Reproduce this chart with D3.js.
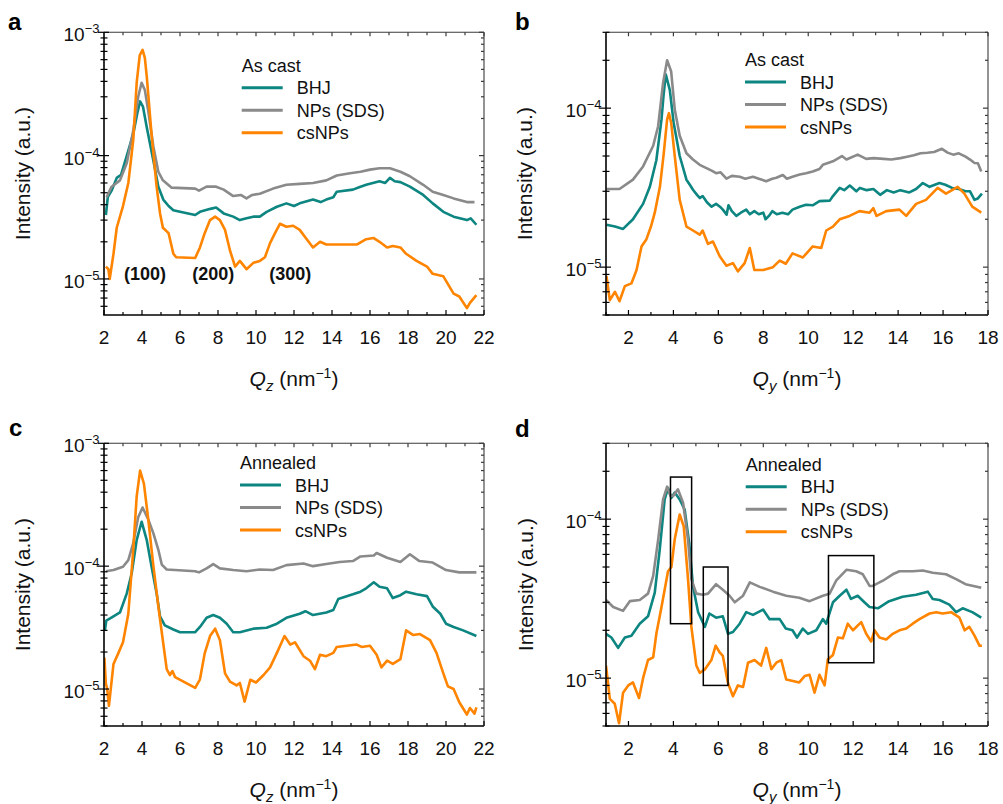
<!DOCTYPE html>
<html><head><meta charset="utf-8">
<script src="https://cdn.jsdelivr.net/npm/d3@7"></script>
<style>html,body{margin:0;padding:0;background:#fff;}svg{display:block;}</style>
</head><body>
<script>
// ---------------- DATA ----------------
const seriesNames = ["BHJ", "NPs (SDS)", "csNPs"];
const seriesColors = ["#0d8580", "#8a8a8a", "#ff8400"];
const panelLetters = ["a", "b", "c", "d"];
const legendTitles = ["As cast", "As cast", "Annealed", "Annealed"];
const axisVars = ["z", "y", "z", "y"];
const qzTicks = [2, 4, 6, 8, 10, 12, 14, 16, 18, 20, 22];
const qyTicks = [2, 4, 6, 8, 10, 12, 14, 16, 18];
const peakLabels = [["(100)", 4.16, 9.8e-6], ["(200)", 7.75, 9.8e-6], ["(300)", 11.8, 9.8e-6]];
const boxesD = [[3.87, 4.81, 2.2e-5, 1.84e-4], [5.33, 6.43, 9.0e-6, 5.0e-5], [10.9, 12.92, 1.25e-5, 5.9e-5]];

// panel a: as cast, Qz
const a_BHJ = [[2.1,3.3e-5],[2.2,4.6e-5],[2.4,5.2e-5],[2.67,6.6e-5],[2.9,7.0e-5],[3.2,1.0e-4],[3.54,1.5e-4],[3.75,2.2e-4],[3.9,2.75e-4],[4.05,2.5e-4],[4.25,1.7e-4],[4.6,9.1e-5],[4.86,5.6e-5],[5.12,4.4e-5],[5.4,3.9e-5],[5.65,3.6e-5],[6.0,3.5e-5],[6.8,3.3e-5],[7.05,3.5e-5],[7.6,3.7e-5],[7.9,3.8e-5],[8.3,3.4e-5],[8.8,3.2e-5],[9.15,3.0e-5],[9.5,3.1e-5],[9.86,3.2e-5],[10.2,3.2e-5],[10.56,3.5e-5],[11.1,3.85e-5],[11.6,4.1e-5],[12.0,3.9e-5],[12.3,4.1e-5],[13.0,4.4e-5],[13.4,4.2e-5],[13.7,4.4e-5],[14.07,4.6e-5],[14.25,5.1e-5],[15.1,5.3e-5],[15.5,5.6e-5],[15.8,5.8e-5],[16.5,6.2e-5],[16.8,6.0e-5],[17.05,6.6e-5],[17.3,6.2e-5],[17.6,6.1e-5],[18.1,5.6e-5],[18.8,4.8e-5],[19.3,4.1e-5],[19.86,3.5e-5],[20.4,3.2e-5],[21.1,3.0e-5],[21.3,3.1e-5],[21.6,2.75e-5]];
const a_NPs = [[2.14,4.6e-5],[2.4,5.6e-5],[2.84,6.3e-5],[3.2,8.7e-5],[3.54,1.6e-4],[3.8,3.0e-4],[3.98,3.9e-4],[4.15,3.4e-4],[4.33,2.3e-4],[4.6,1.18e-4],[4.86,7.4e-5],[5.1,6.3e-5],[5.56,5.5e-5],[6.8,5.4e-5],[7.0,5.2e-5],[7.4,5.6e-5],[7.9,5.6e-5],[8.3,5.3e-5],[8.8,4.7e-5],[9.2,4.8e-5],[9.5,4.5e-5],[9.8,4.8e-5],[10.2,4.9e-5],[10.9,5.4e-5],[11.6,5.8e-5],[12.3,5.9e-5],[13.0,6.0e-5],[13.7,6.3e-5],[14.25,6.9e-5],[14.95,7.2e-5],[15.5,7.4e-5],[16.0,7.7e-5],[16.5,7.9e-5],[17.05,7.9e-5],[17.6,7.4e-5],[18.1,6.8e-5],[18.8,5.8e-5],[19.3,5.1e-5],[19.86,4.8e-5],[20.4,4.5e-5],[21.1,4.2e-5],[21.5,4.2e-5]];
const a_cs = [[2.1,1.26e-5],[2.23,1.2e-5],[2.3,1.0e-5],[2.5,1.6e-5],[2.67,2.6e-5],[3.0,3.9e-5],[3.28,6.0e-5],[3.54,1.34e-4],[3.72,3.9e-4],[3.88,6.5e-4],[4.03,7.2e-4],[4.15,6.2e-4],[4.25,4.4e-4],[4.5,1.5e-4],[4.77,5.6e-5],[4.95,3.4e-5],[5.1,2.6e-5],[5.4,2.35e-5],[5.65,1.6e-5],[5.8,1.5e-5],[6.8,1.48e-5],[7.05,1.8e-5],[7.3,2.35e-5],[7.58,3.0e-5],[7.85,3.2e-5],[8.1,3.0e-5],[8.37,2.5e-5],[8.63,1.7e-5],[8.9,1.26e-5],[9.15,1.4e-5],[9.5,1.2e-5],[9.86,1.35e-5],[10.2,1.4e-5],[10.47,1.5e-5],[10.74,1.95e-5],[11.0,2.35e-5],[11.26,2.8e-5],[11.6,2.65e-5],[11.96,2.7e-5],[12.3,2.5e-5],[12.67,2.1e-5],[13.0,1.8e-5],[13.37,2.0e-5],[13.7,1.9e-5],[14.07,1.9e-5],[15.3,1.9e-5],[15.8,2.1e-5],[16.18,2.15e-5],[16.5,2.0e-5],[16.9,1.8e-5],[17.2,1.85e-5],[17.6,1.8e-5],[17.9,1.6e-5],[18.45,1.4e-5],[19.0,1.26e-5],[19.3,1.1e-5],[19.86,1.05e-5],[20.4,7.6e-6],[20.7,7.2e-6],[21.1,5.8e-6],[21.26,6.4e-6],[21.6,7.4e-6]];

// panel b: as cast, Qy
const b_BHJ = [[1.02,1.85e-5],[1.4,1.8e-5],[1.76,1.74e-5],[2.2,2.0e-5],[2.65,2.5e-5],[2.95,3.2e-5],[3.24,4.7e-5],[3.47,8.5e-5],[3.56,1.2e-4],[3.66,1.63e-4],[3.84,1.3e-4],[4.01,8.1e-5],[4.28,5.0e-5],[4.58,3.55e-5],[4.73,3.3e-5],[4.87,3.07e-5],[5.05,2.85e-5],[5.18,2.72e-5],[5.3,2.8e-5],[5.5,2.55e-5],[5.7,2.4e-5],[5.9,2.5e-5],[6.07,2.4e-5],[6.2,2.3e-5],[6.37,2.14e-5],[6.45,2.45e-5],[6.6,2.25e-5],[6.8,2.1e-5],[7.0,2.2e-5],[7.24,2.3e-5],[7.4,2.15e-5],[7.6,2.25e-5],[7.8,2.15e-5],[8.0,2.2e-5],[8.1,2.0e-5],[8.25,2.1e-5],[8.4,2.25e-5],[8.6,2.15e-5],[8.85,2.2e-5],[9.1,2.15e-5],[9.3,2.3e-5],[9.62,2.4e-5],[9.9,2.47e-5],[10.2,2.45e-5],[10.5,2.6e-5],[10.96,2.62e-5],[11.1,2.8e-5],[11.4,3.15e-5],[11.6,3.05e-5],[11.85,3.26e-5],[12.14,3.0e-5],[12.3,3.15e-5],[12.6,3.05e-5],[12.9,3.1e-5],[13.2,2.85e-5],[13.5,3.05e-5],[13.8,2.95e-5],[14.1,3.05e-5],[14.5,2.95e-5],[14.8,3.1e-5],[15.1,3.38e-5],[15.4,3.2e-5],[15.84,3.38e-5],[16.1,3.3e-5],[16.4,3.15e-5],[16.7,3.1e-5],[17.0,3.0e-5],[17.2,3.0e-5],[17.4,2.65e-5],[17.54,2.7e-5],[17.73,2.9e-5]];
const b_NPs = [[1.02,3.1e-5],[1.6,3.1e-5],[2.2,3.55e-5],[2.65,4.3e-5],[3.1,5.8e-5],[3.32,7.7e-5],[3.54,1.44e-4],[3.72,2.0e-4],[3.9,1.7e-4],[4.06,9.8e-5],[4.28,6.7e-5],[4.58,5.2e-5],[4.87,4.75e-5],[5.17,4.4e-5],[5.47,4.2e-5],[5.7,4.05e-5],[5.9,3.9e-5],[6.1,3.95e-5],[6.36,3.6e-5],[6.6,3.75e-5],[6.95,3.7e-5],[7.2,3.6e-5],[7.54,3.7e-5],[7.8,3.6e-5],[8.13,3.47e-5],[8.4,3.6e-5],[8.58,3.65e-5],[8.87,3.8e-5],[9.05,3.6e-5],[9.3,3.7e-5],[9.62,3.82e-5],[9.9,3.9e-5],[10.2,4.0e-5],[10.5,4.14e-5],[10.65,4.4e-5],[11.1,4.63e-5],[11.5,5.0e-5],[11.7,4.75e-5],[12.2,5.1e-5],[12.58,4.8e-5],[12.9,4.85e-5],[13.35,4.8e-5],[13.7,4.75e-5],[14.1,4.85e-5],[14.4,4.95e-5],[14.7,5.05e-5],[15.0,5.2e-5],[15.3,5.24e-5],[15.6,5.3e-5],[15.95,5.55e-5],[16.2,5.25e-5],[16.45,5.1e-5],[16.7,5.2e-5],[17.0,4.95e-5],[17.2,4.75e-5],[17.4,4.52e-5],[17.55,4.5e-5],[17.7,4.0e-5]];
const b_cs = [[1.02,8.8e-6],[1.17,6.2e-6],[1.4,7.0e-6],[1.6,6.1e-6],[1.84,7.6e-6],[2.13,7.9e-6],[2.36,9.6e-6],[2.58,1.35e-5],[2.8,1.5e-5],[3.0,1.8e-5],[3.17,2.2e-5],[3.4,3.2e-5],[3.57,5.2e-5],[3.72,8.5e-5],[3.8,9.3e-5],[3.9,8.1e-5],[4.06,5.0e-5],[4.28,2.65e-5],[4.58,1.8e-5],[4.87,1.7e-5],[5.17,1.6e-5],[5.3,1.7e-5],[5.54,1.4e-5],[5.76,1.45e-5],[6.06,1.17e-5],[6.36,1.02e-5],[6.65,1.06e-5],[6.87,9.4e-6],[7.17,1.06e-5],[7.4,1.32e-5],[7.6,9.6e-6],[8.0,9.6e-6],[8.43,1.0e-5],[8.73,1.1e-5],[9.0,1.05e-5],[9.3,1.22e-5],[9.76,1.15e-5],[10.2,1.35e-5],[10.58,1.32e-5],[10.8,1.7e-5],[11.1,1.8e-5],[11.4,2.0e-5],[11.84,2.1e-5],[12.28,2.25e-5],[12.73,2.2e-5],[12.9,2.35e-5],[13.04,2.1e-5],[13.47,2.25e-5],[14.06,2.3e-5],[14.36,2.1e-5],[14.8,2.5e-5],[15.24,2.65e-5],[15.76,3.15e-5],[16.13,2.9e-5],[16.65,3.2e-5],[16.95,2.9e-5],[17.3,2.4e-5],[17.7,2.2e-5]];

// panel c: annealed, Qz
const c_BHJ = [[2.05,3.0e-5],[2.12,3.6e-5],[2.5,3.9e-5],[2.84,4.2e-5],[3.2,6.0e-5],[3.46,8.8e-5],[3.72,1.63e-4],[3.98,2.3e-4],[4.25,1.63e-4],[4.5,1.0e-4],[4.77,6.0e-5],[4.95,3.9e-5],[5.2,3.3e-5],[5.65,3.05e-5],[6.0,2.9e-5],[6.8,2.9e-5],[7.05,3.2e-5],[7.4,3.8e-5],[7.75,4.0e-5],[8.1,3.8e-5],[8.46,3.4e-5],[8.8,2.9e-5],[9.15,2.9e-5],[9.86,3.1e-5],[10.56,3.15e-5],[11.1,3.4e-5],[11.6,3.8e-5],[12.3,4.1e-5],[12.6,4.3e-5],[13.0,4.0e-5],[13.7,4.2e-5],[14.07,4.4e-5],[14.33,5.4e-5],[15.1,5.9e-5],[15.5,6.2e-5],[15.8,6.6e-5],[16.2,7.4e-5],[16.5,6.8e-5],[16.9,6.6e-5],[17.2,5.5e-5],[17.6,5.8e-5],[17.9,6.2e-5],[18.45,5.9e-5],[19.0,5.7e-5],[19.3,4.7e-5],[19.7,4.1e-5],[20.0,3.4e-5],[20.4,3.2e-5],[20.9,3.0e-5],[21.6,2.7e-5]];
const c_NPs = [[2.1,9.1e-5],[2.5,9.3e-5],[3.0,9.9e-5],[3.28,1.12e-4],[3.54,1.54e-4],[3.8,2.5e-4],[4.03,3.0e-4],[4.33,2.4e-4],[4.6,1.85e-4],[4.86,1.36e-4],[5.04,1.03e-4],[5.3,9.4e-5],[6.8,9.1e-5],[7.0,8.9e-5],[7.4,9.6e-5],[7.75,1.04e-4],[8.1,9.6e-5],[8.8,9.3e-5],[9.5,9.1e-5],[10.2,9.4e-5],[10.9,9.3e-5],[11.6,1.02e-4],[12.5,1.05e-4],[13.0,1.0e-4],[13.7,1.04e-4],[14.4,1.08e-4],[15.1,1.1e-4],[15.5,1.2e-4],[16.2,1.22e-4],[16.35,1.28e-4],[16.9,1.17e-4],[17.6,1.08e-4],[18.1,1.25e-4],[18.6,1.1e-4],[19.3,1.07e-4],[20.0,9.3e-5],[20.7,8.9e-5],[21.6,8.9e-5]];
const c_cs = [[2.02,1.8e-5],[2.1,1.1e-5],[2.17,1.0e-5],[2.26,7.3e-6],[2.5,1.6e-5],[2.75,1.95e-5],[3.0,2.4e-5],[3.28,4.1e-5],[3.54,1.36e-4],[3.72,3.7e-4],[3.9,6.0e-4],[4.1,4.7e-4],[4.33,2.4e-4],[4.6,1.0e-4],[4.86,4.7e-5],[5.04,2.9e-5],[5.3,1.45e-5],[5.47,1.3e-5],[5.6,1.4e-5],[5.74,1.25e-5],[6.8,1.02e-5],[7.05,1.2e-5],[7.3,1.95e-5],[7.58,2.7e-5],[7.85,3.1e-5],[8.1,2.5e-5],[8.37,1.34e-5],[8.63,1.15e-5],[8.98,1.07e-5],[9.15,1.12e-5],[9.4,7.9e-6],[9.7,1.19e-5],[10.0,1.13e-5],[10.4,1.3e-5],[10.74,1.5e-5],[11.1,1.97e-5],[11.5,2.7e-5],[11.8,2.3e-5],[12.05,2.4e-5],[12.5,1.85e-5],[12.84,1.7e-5],[13.1,1.45e-5],[13.37,1.9e-5],[13.7,1.85e-5],[14.07,1.97e-5],[14.25,2.2e-5],[15.3,2.3e-5],[15.56,2.2e-5],[16.0,2.25e-5],[16.35,1.9e-5],[16.6,1.5e-5],[16.9,1.7e-5],[17.2,1.6e-5],[17.6,1.75e-5],[17.9,3.0e-5],[18.28,2.75e-5],[18.63,2.8e-5],[19.16,2.5e-5],[19.5,1.97e-5],[19.86,1.34e-5],[20.1,1.05e-5],[20.4,1.0e-5],[20.7,7.8e-6],[21.1,6.2e-6],[21.26,7.0e-6],[21.5,6.3e-6],[21.6,7.1e-6]];

// panel d: annealed, Qy
const d_BHJ = [[1.0,1.9e-5],[1.24,1.8e-5],[1.54,1.55e-5],[1.84,1.8e-5],[2.13,1.85e-5],[2.5,2.2e-5],[2.87,2.45e-5],[3.17,3.45e-5],[3.39,6.4e-5],[3.61,1.33e-4],[3.76,1.57e-4],[3.91,1.36e-4],[4.06,1.47e-4],[4.28,1.33e-4],[4.5,1.15e-4],[4.7,7.1e-5],[4.87,3.8e-5],[5.1,2.6e-5],[5.4,2.1e-5],[5.6,2.55e-5],[5.9,2.4e-5],[6.2,2.45e-5],[6.43,1.9e-5],[6.65,1.95e-5],[6.95,2.2e-5],[7.24,2.6e-5],[7.54,2.5e-5],[7.99,2.7e-5],[8.28,2.35e-5],[8.73,2.35e-5],[9.0,2.05e-5],[9.3,2.0e-5],[9.5,1.8e-5],[9.76,2.05e-5],[9.99,1.9e-5],[10.36,2.0e-5],[10.65,2.35e-5],[10.8,2.2e-5],[11.1,3.0e-5],[11.4,3.3e-5],[11.7,3.6e-5],[11.9,3.15e-5],[12.2,3.3e-5],[12.5,3.0e-5],[12.73,2.8e-5],[13.1,2.75e-5],[13.6,3.05e-5],[14.2,3.25e-5],[14.8,3.35e-5],[15.32,3.5e-5],[15.54,3.15e-5],[15.84,3.1e-5],[16.28,2.9e-5],[16.58,2.6e-5],[16.87,2.75e-5],[17.3,2.6e-5],[17.7,2.4e-5]];
const d_NPs = [[1.0,3.1e-5],[1.32,2.8e-5],[1.76,2.65e-5],[2.06,3.05e-5],[2.5,3.1e-5],[2.87,3.4e-5],[3.1,4.4e-5],[3.32,7.4e-5],[3.54,1.33e-4],[3.72,1.6e-4],[3.87,1.4e-4],[3.99,1.4e-4],[4.2,1.54e-4],[4.43,1.27e-4],[4.65,7.4e-5],[4.8,4.2e-5],[5.02,3.4e-5],[5.32,3.35e-5],[5.54,3.4e-5],[5.9,3.9e-5],[6.2,3.6e-5],[6.5,3.3e-5],[6.73,3.0e-5],[7.1,3.3e-5],[7.4,4.0e-5],[7.84,3.75e-5],[8.43,3.5e-5],[9.02,3.3e-5],[9.6,3.2e-5],[10.06,3.05e-5],[10.65,3.3e-5],[10.95,3.4e-5],[11.24,4.1e-5],[11.7,4.8e-5],[12.13,4.7e-5],[12.43,4.5e-5],[12.73,3.8e-5],[12.87,3.8e-5],[13.32,4.1e-5],[13.76,4.5e-5],[14.06,4.7e-5],[14.65,4.7e-5],[15.1,4.75e-5],[15.54,4.6e-5],[16.13,4.5e-5],[16.58,4.2e-5],[17.0,3.9e-5],[17.7,3.7e-5]];
const d_cs = [[1.0,1.2e-5],[1.17,7.4e-6],[1.39,6.9e-6],[1.58,5.2e-6],[1.76,8.1e-6],[1.99,9.0e-6],[2.2,9.4e-6],[2.47,7.5e-6],[2.65,1.0e-5],[2.87,1.3e-5],[3.1,1.35e-5],[3.24,1.9e-5],[3.47,2.8e-5],[3.76,4.7e-5],[3.91,5.0e-5],[4.06,7.5e-5],[4.28,1.07e-4],[4.46,9.0e-5],[4.65,4.2e-5],[4.8,2.1e-5],[5.02,1.2e-5],[5.17,1.08e-5],[5.39,1.13e-5],[5.69,1.3e-5],[5.88,1.6e-5],[6.06,1.45e-5],[6.2,1.38e-5],[6.43,9.3e-6],[6.65,7.7e-6],[6.87,9.0e-6],[7.1,8.8e-6],[7.32,1.25e-5],[7.61,1.3e-5],[7.9,1.2e-5],[8.13,1.55e-5],[8.36,1.14e-5],[8.58,1.25e-5],[8.8,1.3e-5],[9.02,9.8e-6],[9.32,9.6e-6],[9.6,9.4e-6],[9.84,1.03e-5],[10.06,1.05e-5],[10.28,8.1e-6],[10.5,1.05e-5],[10.73,9.0e-6],[10.87,1.31e-5],[11.1,1.4e-5],[11.32,1.8e-5],[11.54,1.78e-5],[11.76,2.2e-5],[11.99,2.0e-5],[12.36,2.25e-5],[12.58,1.9e-5],[12.8,1.7e-5],[12.95,2.0e-5],[13.17,1.8e-5],[13.47,1.75e-5],[13.76,1.9e-5],[14.06,2.0e-5],[14.36,2.05e-5],[14.65,2.2e-5],[14.95,2.35e-5],[15.4,2.55e-5],[15.7,2.6e-5],[15.98,2.55e-5],[16.36,2.6e-5],[16.73,2.4e-5],[16.96,2.0e-5],[17.17,2.1e-5],[17.4,1.85e-5],[17.62,1.6e-5],[17.73,1.6e-5]];

// ---------------- LAYOUT ----------------
const panels = [
  {l:104, r:484, t:32.3, b:315, xd:[2,22], yd:[5.1e-6,1e-3], ticks:qzTicks, series:[a_BHJ,a_NPs,a_cs], lx:241.7, ly:71.7, letter:[8,30], ytx:30},
  {l:606, r:988, t:32.3, b:315, xd:[1,18], yd:[5e-6,3e-4], ticks:qyTicks, series:[b_BHJ,b_NPs,b_cs], lx:745, ly:66, letter:[515,30], ytx:532},
  {l:104, r:484, t:443.3, b:726, xd:[2,22], yd:[5e-6,1e-3], ticks:qzTicks, series:[c_BHJ,c_NPs,c_cs], lx:240, ly:469, letter:[9,436], ytx:30},
  {l:606, r:988, t:443.3, b:726, xd:[1,18], yd:[5e-6,3e-4], ticks:qyTicks, series:[d_BHJ,d_NPs,d_cs], lx:745.7, ly:470.7, letter:[515,437], ytx:533}
];

const svg = d3.select("body").append("svg")
  .attr("width", 1003).attr("height", 804)
  .style("font-family", "'Liberation Sans', Arial, Helvetica, sans-serif");

panels.forEach((p, i) => {
  const x = d3.scaleLinear().domain(p.xd).range([p.l, p.r]);
  const y = d3.scaleLog().domain(p.yd).range([p.b, p.t]);
  const g = svg.append("g");

  const clipId = "clip" + i;
  g.append("clipPath").attr("id", clipId).append("rect")
    .attr("x", p.l).attr("y", p.t).attr("width", p.r - p.l).attr("height", p.b - p.t);

  // data lines
  const line = d3.line().x(d => x(d[0])).y(d => y(d[1]));
  p.series.forEach((s, k) => {
    g.append("path").datum(s).attr("d", line)
      .attr("fill", "none").attr("stroke", seriesColors[k])
      .attr("stroke-width", 2.6).attr("stroke-linejoin", "round")
      .attr("clip-path", `url(#${clipId})`);
  });

  // frame
  g.append("line").attr("x1", p.l).attr("x2", p.r).attr("y1", p.t).attr("y2", p.t).attr("stroke", "#3a3a3a").attr("stroke-width", 1.1);
  g.append("line").attr("x1", p.r).attr("x2", p.r).attr("y1", p.t).attr("y2", p.b).attr("stroke", "#3a3a3a").attr("stroke-width", 1.1);
  g.append("line").attr("x1", p.l).attr("x2", p.l).attr("y1", p.t).attr("y2", p.b).attr("stroke", "#000").attr("stroke-width", 1.6);
  g.append("line").attr("x1", p.l - 0.8).attr("x2", p.r).attr("y1", p.b).attr("y2", p.b).attr("stroke", "#000").attr("stroke-width", 1.6);

  // x ticks
  const xMinor = d3.range(Math.ceil(p.xd[0]), p.xd[1] + 0.001, 1).filter(v => p.ticks.indexOf(v) < 0);
  const tickG = g.append("g").attr("stroke", "#000").attr("stroke-width", 1.2);
  p.ticks.forEach(v => {
    tickG.append("line").attr("x1", x(v)).attr("x2", x(v)).attr("y1", p.b).attr("y2", p.b - 5);
    tickG.append("line").attr("x1", x(v)).attr("x2", x(v)).attr("y1", p.t).attr("y2", p.t + 4).attr("stroke", "#3a3a3a");
    g.append("text").attr("x", x(v)).attr("y", p.b + 28.5).attr("text-anchor", "middle")
      .attr("font-size", 19).attr("fill", "#111").text(v);
  });
  xMinor.forEach(v => {
    tickG.append("line").attr("x1", x(v)).attr("x2", x(v)).attr("y1", p.b).attr("y2", p.b - 3);
    tickG.append("line").attr("x1", x(v)).attr("x2", x(v)).attr("y1", p.t).attr("y2", p.t + 3).attr("stroke", "#3a3a3a");
  });

  // y ticks (log)
  const majors = [], minors = [];
  for (let e = -6; e <= -3; e++) {
    for (let k = 1; k <= 9; k++) {
      const v = k * Math.pow(10, e);
      if (v < p.yd[0] * 0.999 || v > p.yd[1] * 1.001) continue;
      (k === 1 ? majors : minors).push(v);
    }
  }
  majors.forEach(v => {
    tickG.append("line").attr("x1", p.l - 6).attr("x2", p.l + 5).attr("y1", y(v)).attr("y2", y(v));
    tickG.append("line").attr("x1", p.r - 5).attr("x2", p.r).attr("y1", y(v)).attr("y2", y(v)).attr("stroke", "#3a3a3a");
    const e = Math.round(Math.log10(v));
    const t = g.append("text").attr("x", p.l - 4.5).attr("y", y(v) + 9).attr("text-anchor", "end")
      .attr("font-size", 19).attr("fill", "#111");
    t.append("tspan").text("10");
    t.append("tspan").attr("font-size", 13).attr("dy", -8).text("\u2212" + Math.abs(e));
  });
  minors.forEach(v => {
    tickG.append("line").attr("x1", p.l - 3.5).attr("x2", p.l + 3.5).attr("y1", y(v)).attr("y2", y(v));
    tickG.append("line").attr("x1", p.r - 3).attr("x2", p.r).attr("y1", y(v)).attr("y2", y(v)).attr("stroke", "#3a3a3a");
  });

  // axis titles
  const xt = g.append("text").attr("x", (p.l + p.r) / 2).attr("y", p.b + 71).attr("text-anchor", "middle")
    .attr("font-size", 21).attr("fill", "#111");
  xt.append("tspan").attr("font-style", "italic").text("Q");
  xt.append("tspan").attr("font-style", "italic").attr("font-size", 15).attr("dy", 5).text(axisVars[i]);
  xt.append("tspan").attr("dy", -5).text(" (nm");
  xt.append("tspan").attr("font-size", 14).attr("dy", -8).text("\u22121");
  xt.append("tspan").attr("dy", 8).text(")");

  g.append("text").attr("transform", `translate(${p.ytx},${(p.t + p.b) / 2}) rotate(-90)`)
    .attr("text-anchor", "middle").attr("font-size", 21).attr("fill", "#111").text("Intensity (a.u.)");

  // panel letter
  g.append("text").attr("x", p.letter[0]).attr("y", p.letter[1]).attr("font-size", 24)
    .attr("font-weight", "bold").attr("fill", "#000").text(panelLetters[i]);

  // legend
  const lg = g.append("g");
  lg.append("text").attr("x", p.lx).attr("y", p.ly).attr("font-size", 18).attr("fill", "#111").text(legendTitles[i]);
  seriesNames.forEach((nm, k) => {
    const ly = p.ly + 16 + k * 22.5;
    lg.append("line").attr("x1", p.lx).attr("x2", p.lx + 41).attr("y1", ly).attr("y2", ly)
      .attr("stroke", seriesColors[k]).attr("stroke-width", 3);
    lg.append("text").attr("x", p.lx + 55).attr("y", ly + 6.5).attr("font-size", 18).attr("fill", "#111").text(nm);
  });

  // annotations
  if (i === 0) {
    peakLabels.forEach(pl => {
      g.append("text").attr("x", x(pl[1])).attr("y", y(pl[2])).attr("text-anchor", "middle")
        .attr("font-size", 18).attr("font-weight", "bold").attr("fill", "#111").text(pl[0]);
    });
  }
  if (i === 3) {
    boxesD.forEach(bx => {
      g.append("rect").attr("x", x(bx[0])).attr("y", y(bx[3]))
        .attr("width", x(bx[1]) - x(bx[0])).attr("height", y(bx[2]) - y(bx[3]))
        .attr("fill", "none").attr("stroke", "#000").attr("stroke-width", 1.5);
    });
  }
});
</script>
</body></html>
